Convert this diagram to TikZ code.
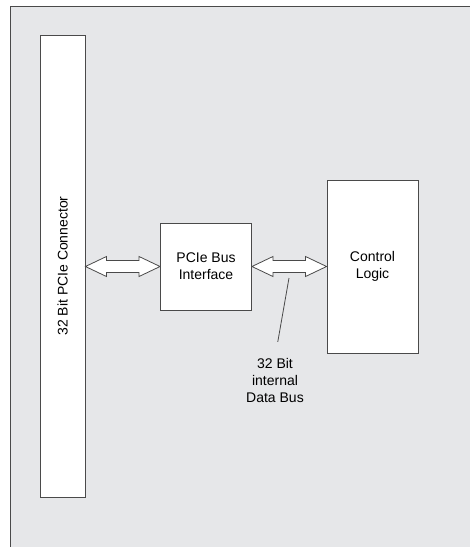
\documentclass[tikz,border=0pt]{standalone}
\usepackage{fontspec}
\setmainfont{Liberation Sans}
\usepackage{tikz}
\usetikzlibrary{calc}

\definecolor{panelgray}{HTML}{E6E7E9}
\definecolor{linegray}{HTML}{4A4A4A}

% hollow two-headed bus arrow between two blocks
\newcommand{\busarrow}[2]{%
  \draw[bus] let \p1=(#1.east), \p2=(#2.west) in
    (\x1,\y2) -- (\x1+21pt,\y2+10pt) -- (\x1+21pt,\y2+6pt)
    -- (\x2-21pt,\y2+6pt) -- (\x2-21pt,\y2+10pt) -- (\x2,\y2)
    -- (\x2-21pt,\y2-10pt) -- (\x2-21pt,\y2-6pt)
    -- (\x1+21pt,\y2-6pt) -- (\x1+21pt,\y2-10pt) -- cycle;}

\begin{document}
\begin{tikzpicture}[x=1pt,y=-1pt,
    block/.style={draw=linegray,fill=white,line width=0.9pt,inner sep=0pt},
    txt/.style={font=\fontsize{14}{17}\selectfont,align=center,inner sep=0pt},
    bus/.style={draw=linegray,fill=white,line width=0.8pt,line join=miter}]
  \useasboundingbox (0,0) rectangle (470,547);
  % panel
  \fill[panelgray] (10,6) rectangle (470,547);
  \draw[linegray,line width=0.9pt] (10,547) -- (10,6) -- (470,6);

  % blocks
  \node[block,minimum width=45,minimum height=462] (conn) at (62.5,266) {};
  \node[txt,rotate=90] (connlbl) at (conn.center) {32 Bit PCIe Connector};
  \node[block,txt,minimum width=91,minimum height=87] (pci) at (206,266.5) {PCIe Bus\\Interface};
  \node[block,txt,minimum width=91,minimum height=173] (ctrl) at (372.5,266.5) {Control\\Logic};

  % buses
  \busarrow{conn}{pci}
  \busarrow{pci}{ctrl}

  % label for the internal bus
  \node[txt] (buslbl) at (275,380) {32 Bit\\internal\\Data Bus};
  \coordinate (tap) at (289,278);
  \draw[linegray,line width=0.8pt,shorten >=16pt] (tap) -- (buslbl.north);
\end{tikzpicture}
\end{document}
